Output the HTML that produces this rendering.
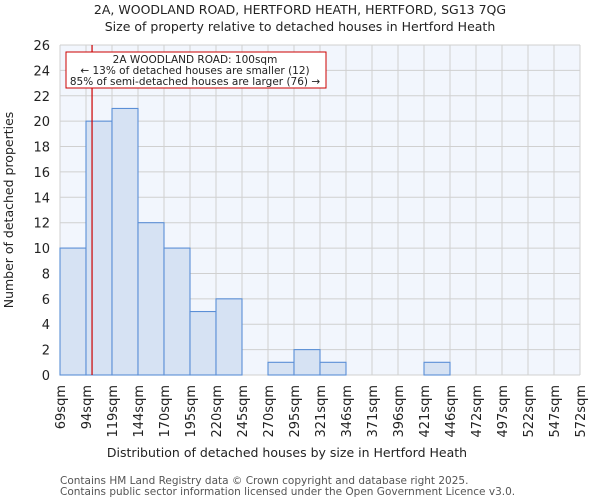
<!DOCTYPE html>
<html><head><meta charset="utf-8"><style>
body{margin:0;background:#fff;font-family:"DejaVu Sans","Liberation Sans",sans-serif;}
svg text{font-family:"DejaVu Sans","Liberation Sans",sans-serif;}
</style></head><body>
<svg id="c" width="600" height="500" xmlns="http://www.w3.org/2000/svg">
<text x="300" y="14" text-anchor="middle" font-size="12.5" fill="#222">2A, WOODLAND ROAD, HERTFORD HEATH, HERTFORD, SG13 7QG</text>
<text x="300" y="31" text-anchor="middle" font-size="12.5" fill="#222">Size of property relative to detached houses in Hertford Heath</text>
<rect x="60" y="45" width="520" height="330" fill="#f2f6fd"/>
<g id="grid"></g><g id="bars"></g><g id="axes"></g>
<line id="marker" y1="45" y2="375" stroke="#cc0000" stroke-width="1.2"/>
<rect x="66" y="52" width="260" height="36" fill="#fff" stroke="#cc0000" stroke-width="1"/>
<text x="195" y="63" text-anchor="middle" font-size="10.5" fill="#222">2A WOODLAND ROAD: 100sqm</text>
<text x="195" y="74" text-anchor="middle" font-size="10.5" fill="#222">← 13% of detached houses are smaller (12)</text>
<text x="195" y="85" text-anchor="middle" font-size="10.5" fill="#222">85% of semi-detached houses are larger (76) →</text>
<text x="287" y="457" text-anchor="middle" font-size="12.5" fill="#222">Distribution of detached houses by size in Hertford Heath</text>
<text transform="translate(13,210) rotate(-90)" text-anchor="middle" font-size="12.5" fill="#222">Number of detached properties</text>
<text x="60" y="484" font-size="10.5" fill="#555">Contains HM Land Registry data © Crown copyright and database right 2025.</text>
<text x="60" y="495" font-size="10.5" fill="#555">Contains public sector information licensed under the Open Government Licence v3.0.</text>
</svg>
<script>
const binLabels=["69sqm","94sqm","119sqm","144sqm","170sqm","195sqm","220sqm","245sqm","270sqm","295sqm","321sqm","346sqm","371sqm","396sqm","421sqm","446sqm","472sqm","497sqm","522sqm","547sqm","572sqm"];
const counts=[10,20,21,12,10,5,6,0,1,2,1,0,0,0,1,0,0,0,0,0];
const yTicks=[0,2,4,6,8,10,12,14,16,18,20,22,24,26];
const propertySize=100;
const binStart=69, binWidth=25.15;
const L=60,R=580,T=45,B=375,yMax=26;
const n=counts.length, bw=(R-L)/n;
const xs=i=>L+i*bw;
const xv=v=>L+(v-binStart)/binWidth*bw;
const ys=v=>B-v/yMax*(B-T);
const NS="http://www.w3.org/2000/svg";
function mk(t,a,p){const e=document.createElementNS(NS,t);for(const k in a)e.setAttribute(k,a[k]);p.appendChild(e);return e;}
const g=document.getElementById('grid'),bg=document.getElementById('bars'),ax=document.getElementById('axes');
yTicks.forEach(v=>{
 const l=mk('line',{x1:L,x2:R,y1:ys(v),y2:ys(v),stroke:'#d0d0d0','stroke-width':1},g);
 
 
 const t=mk('text',{x:L-10,y:ys(v)+5,'text-anchor':'end','font-size':13,fill:'#222'},ax);
 t.textContent=v;
 
 
});
binLabels.forEach((s,i)=>{
 const x=xs(i);
 const l=mk('line',{x1:x,x2:x,y1:T,y2:B,stroke:'#d0d0d0','stroke-width':1},g);
 
 
 const t=mk('text',{transform:`translate(${x+5},${B+10}) rotate(-90)`,'text-anchor':'end','font-size':13,fill:'#222'},ax);
 t.textContent=s;
 
 
});
counts.forEach((c,i)=>{
 if(c<=0)return;
 const r=mk('rect',{x:xs(i),y:ys(c),width:bw,height:B-ys(c),fill:'#d6e2f3',stroke:'#5b8fd6','stroke-width':1.1},bg);
 
 
});
const m=document.getElementById('marker');m.setAttribute('x1',xv(propertySize));m.setAttribute('x2',xv(propertySize));
</script>
</body></html>
